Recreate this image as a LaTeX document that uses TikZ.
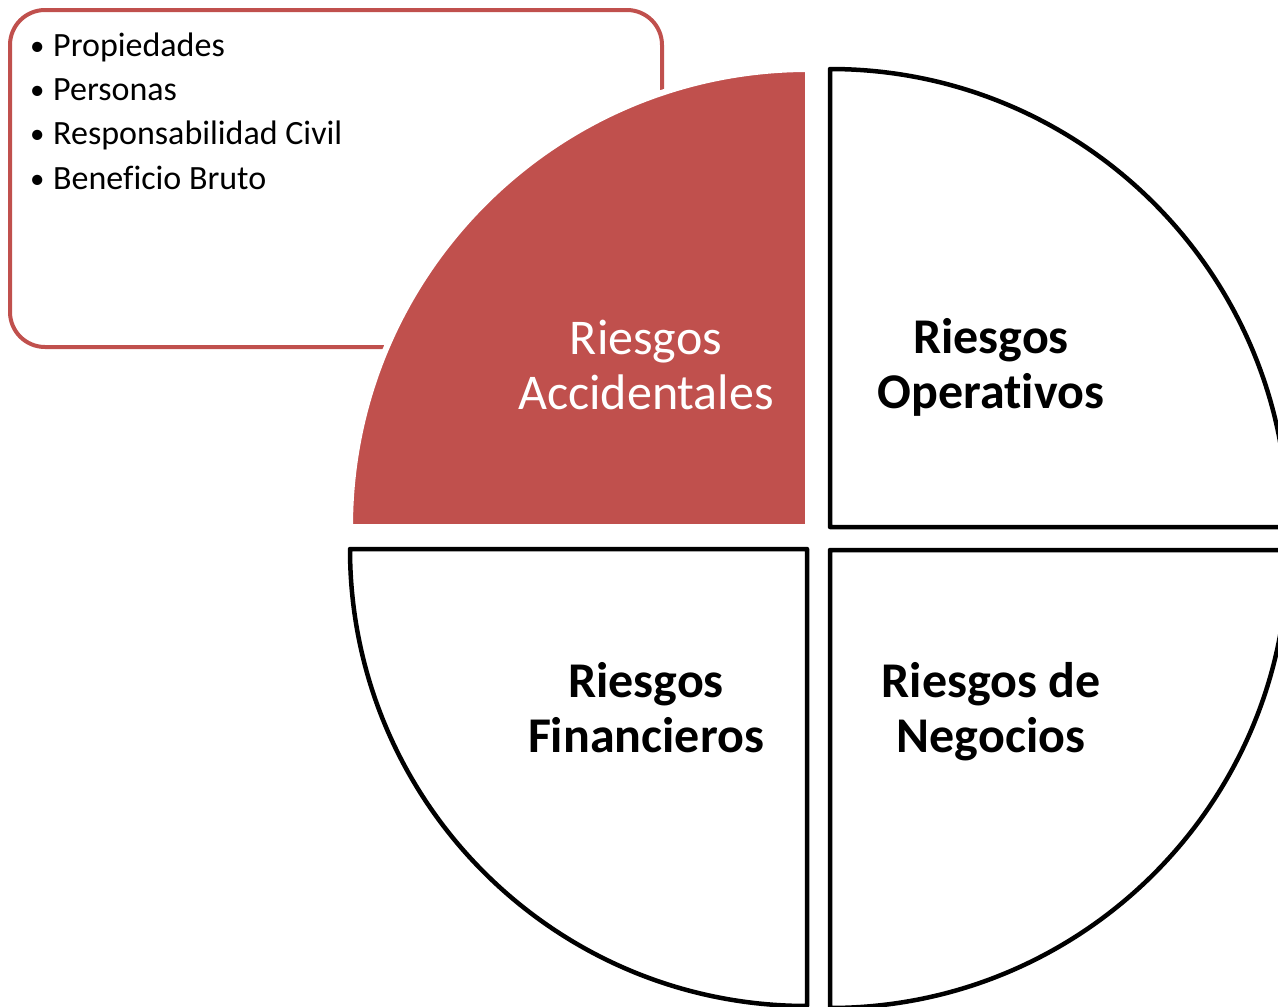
\documentclass[tikz,border=0pt]{standalone}
\usepackage{fontspec}
\setmainfont{Carlito}[Ligatures=CommonOff]
\definecolor{rojo}{HTML}{C0504D}

\newcommand{\vineta}{\makebox[23pt][l]{\raisebox{1pt}{\scalebox{0.85}{\textbullet}}}}

\tikzset{
  cuarto/.style={draw=black, fill=white, line width=4.5pt, line join=round},
  etiqueta/.style={align=center, font=\fontsize{50}{55}\selectfont\bfseries},
  punto/.style={anchor=base west, font=\fontsize{34}{40}\selectfont, inner sep=0pt}
}

\begin{document}
\begin{tikzpicture}[x=1pt,y=1pt]

\useasboundingbox (0,0) rectangle (1278,-1007);
\clip (0,0) rectangle (1278,-1007);

% caja de la lista
\draw[draw=rojo, line width=4pt, rounded corners=35pt] (10,-10) rectangle (662,-347);

\node[punto] (p1) at (30,-56) {\vineta Propiedades};
\node[punto] (p2) at (30,-100) {\vineta Personas};
\node[punto] (p3) at (30,-144) {\vineta Responsabilidad Civil};
\node[punto] (p4) at (30,-189) {\vineta Beneficio Bruto};

% cuadrantes
\filldraw[fill=rojo, draw=white, line width=6pt] (808,-527) -- (350,-527) arc (180:90:458pt) -- cycle;

\filldraw[cuarto] (830,-527) -- (830,-69) arc (90:0:458pt) -- cycle;
\filldraw[cuarto] (830,-550) -- (1288,-550) arc (0:-90:458pt) -- cycle;
\filldraw[cuarto] (807,-549) -- (807,-1006) arc (270:180:457pt) -- cycle;

\node[etiqueta, text=white, font=\fontsize{50}{55}\selectfont\mdseries] (acc) at (646,-365) {Riesgos\\Accidentales};
\node[etiqueta] (ope) at (991,-367) {Riesgos\\Operativos};
\node[etiqueta] (fin) at (646,-708) {Riesgos\\Financieros};
\node[etiqueta] (neg) at (991,-712) {Riesgos de\\Negocios};

\end{tikzpicture}
\end{document}
